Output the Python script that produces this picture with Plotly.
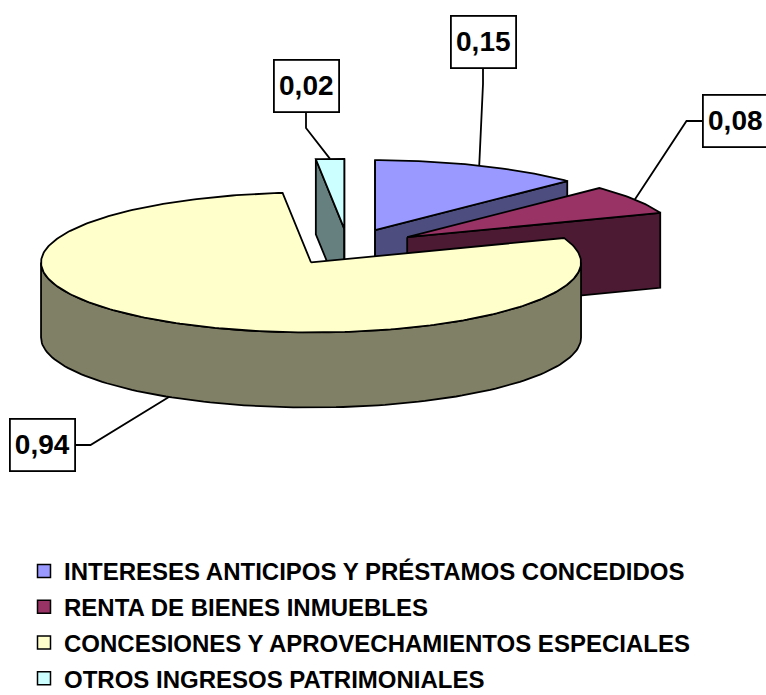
import numpy as np
import plotly.graph_objects as go

# ---------------- data ----------------
categories = [
    "INTERESES ANTICIPOS Y PRÉSTAMOS CONCEDIDOS",
    "RENTA DE BIENES INMUEBLES",
    "CONCESIONES Y APROVECHAMIENTOS ESPECIALES",
    "OTROS INGRESOS PATRIMONIALES",
]
values = [0.15, 0.08, 0.94, 0.02]

# ---------------- styles ----------------
top_colors = ["#9999FF", "#993366", "#FFFFCC", "#CCFFFF"]
side_colors = ["#4D4D80", "#4D1A33", "#808066", "#668080"]
label_pos = [(483, 42), (735, 121), (42, 445), (306, 86)]   # label box centres (px)
label_side = ["bottom", "left", "right", "bottom"]          # where the leader leaves the box

W, H = 766, 695
CX, CY = 348, 247          # pie centre (px)
RX, RY = 270, 70           # ellipse radii of the tilted pie
DEPTH = 75                 # thickness of the pie
EXPLODE = 0.26             # fraction of radius
BOX_W, BOX_H = 65, 52
ELBOW = 16
FONT = "Liberation Sans, Arial, sans-serif"
OUTLINE = dict(color="black", width=1.8)

total = float(sum(values))
bounds = np.concatenate([[0.0], np.cumsum(values) / total]) * 2 * np.pi


def pt(th, c, dz=0.0):
    return c[0] + RX * np.sin(th), c[1] - RY * np.cos(th) + dz


fig = go.Figure()
slices = []
for i, v in enumerate(values):
    t1, t2 = bounds[i], bounds[i + 1]
    mid = (t1 + t2) / 2
    c = (CX + EXPLODE * RX * np.sin(mid), CY - EXPLODE * RY * np.cos(mid))
    slices.append((i, t1, t2, mid, c))


def add_poly(xs, ys, color):
    xs = list(xs) + [xs[0]]
    ys = list(ys) + [ys[0]]
    fig.add_trace(go.Scatter(x=xs, y=ys, mode="lines", fill="toself",
                             fillcolor=color, line=OUTLINE,
                             hoverinfo="skip", showlegend=False))


# back to front
for i, t1, t2, mid, c in sorted(slices, key=lambda s: -np.cos(s[3])):
    eps = 1e-9
    # radial faces facing the viewer
    for th, vis in ((t1, np.sin(t1) <= eps), (t2, np.sin(t2) >= -eps)):
        if vis:
            x1, y1 = pt(th, c)
            x2, y2 = pt(th, c, DEPTH)
            add_poly([c[0], x1, x2, c[0]], [c[1], y1, y2, c[1] + DEPTH], side_colors[i])
    # outer curved side (front half: pi/2..3pi/2)
    a, b = max(t1, np.pi / 2), min(t2, 3 * np.pi / 2)
    if b > a:
        th = np.linspace(a, b, 120)
        xt, yt = pt(th, c)
        xb, yb = pt(th[::-1], c, DEPTH)
        add_poly(np.concatenate([xt, xb]), np.concatenate([yt, yb]), side_colors[i])
    # top face
    th = np.linspace(t1, t2, max(8, int(200 * (t2 - t1) / np.pi)))
    xt, yt = pt(th, c)
    add_poly(np.concatenate([[c[0]], xt]), np.concatenate([[c[1]], yt]), top_colors[i])

# leader lines + labels
annotations = []
for i, t1, t2, mid, c in slices:
    px, py = pt(mid, c, DEPTH if np.cos(mid) < 0 else 0.0)
    bx, by = label_pos[i]
    side = label_side[i]
    if side == "bottom":
        sx, sy = bx, by + BOX_H / 2
        ex, ey = sx, sy + ELBOW
    elif side == "left":
        sx, sy = bx - BOX_W / 2, by
        ex, ey = sx - ELBOW, sy
    else:
        sx, sy = bx + BOX_W / 2, by
        ex, ey = sx + ELBOW, sy
    fig.add_trace(go.Scatter(x=[sx, ex, px], y=[sy, ey, py], mode="lines",
                             line=OUTLINE, hoverinfo="skip", showlegend=False))
    annotations.append(dict(
        x=bx, y=by, xref="x", yref="y", showarrow=False,
        text=f"{values[i]:.2f}".replace(".", ","),
        font=dict(family=FONT, size=28, color="black", weight="bold"),
        bgcolor="white", bordercolor="black", borderwidth=1.8,
        width=BOX_W - 2, height=BOX_H - 2, borderpad=0,
    ))

# legend entries
for i, name in enumerate(categories):
    fig.add_trace(go.Scatter(
        x=[None], y=[None], mode="markers", name=name, legendgroup=f"g{i}",
        marker=dict(symbol="square", size=13, color=top_colors[i],
                    line=dict(color="black", width=1.5)),
    ))

fig.update_layout(
    width=W, height=H, autosize=False,
    margin=dict(l=0, r=0, t=0, b=0, autoexpand=False),
    paper_bgcolor="white", plot_bgcolor="white",
    xaxis=dict(range=[0, W], visible=False, fixedrange=True),
    yaxis=dict(range=[H, 0], visible=False, fixedrange=True),
    annotations=annotations,
    showlegend=True,
    legend=dict(
        x=24 / W, y=1 - 549 / H, xanchor="left", yanchor="top",
        font=dict(family=FONT, size=24, color="black", weight="bold"),
        bgcolor="rgba(0,0,0,0)", itemclick=False, itemdoubleclick=False,
        traceorder="grouped", tracegroupgap=1.5,
    ),
)

fig.write_html(
    "out.html",
    config={"displayModeBar": False, "staticPlot": True},
    post_script="document.body.style.margin='0';document.body.style.overflow='hidden';",
)
